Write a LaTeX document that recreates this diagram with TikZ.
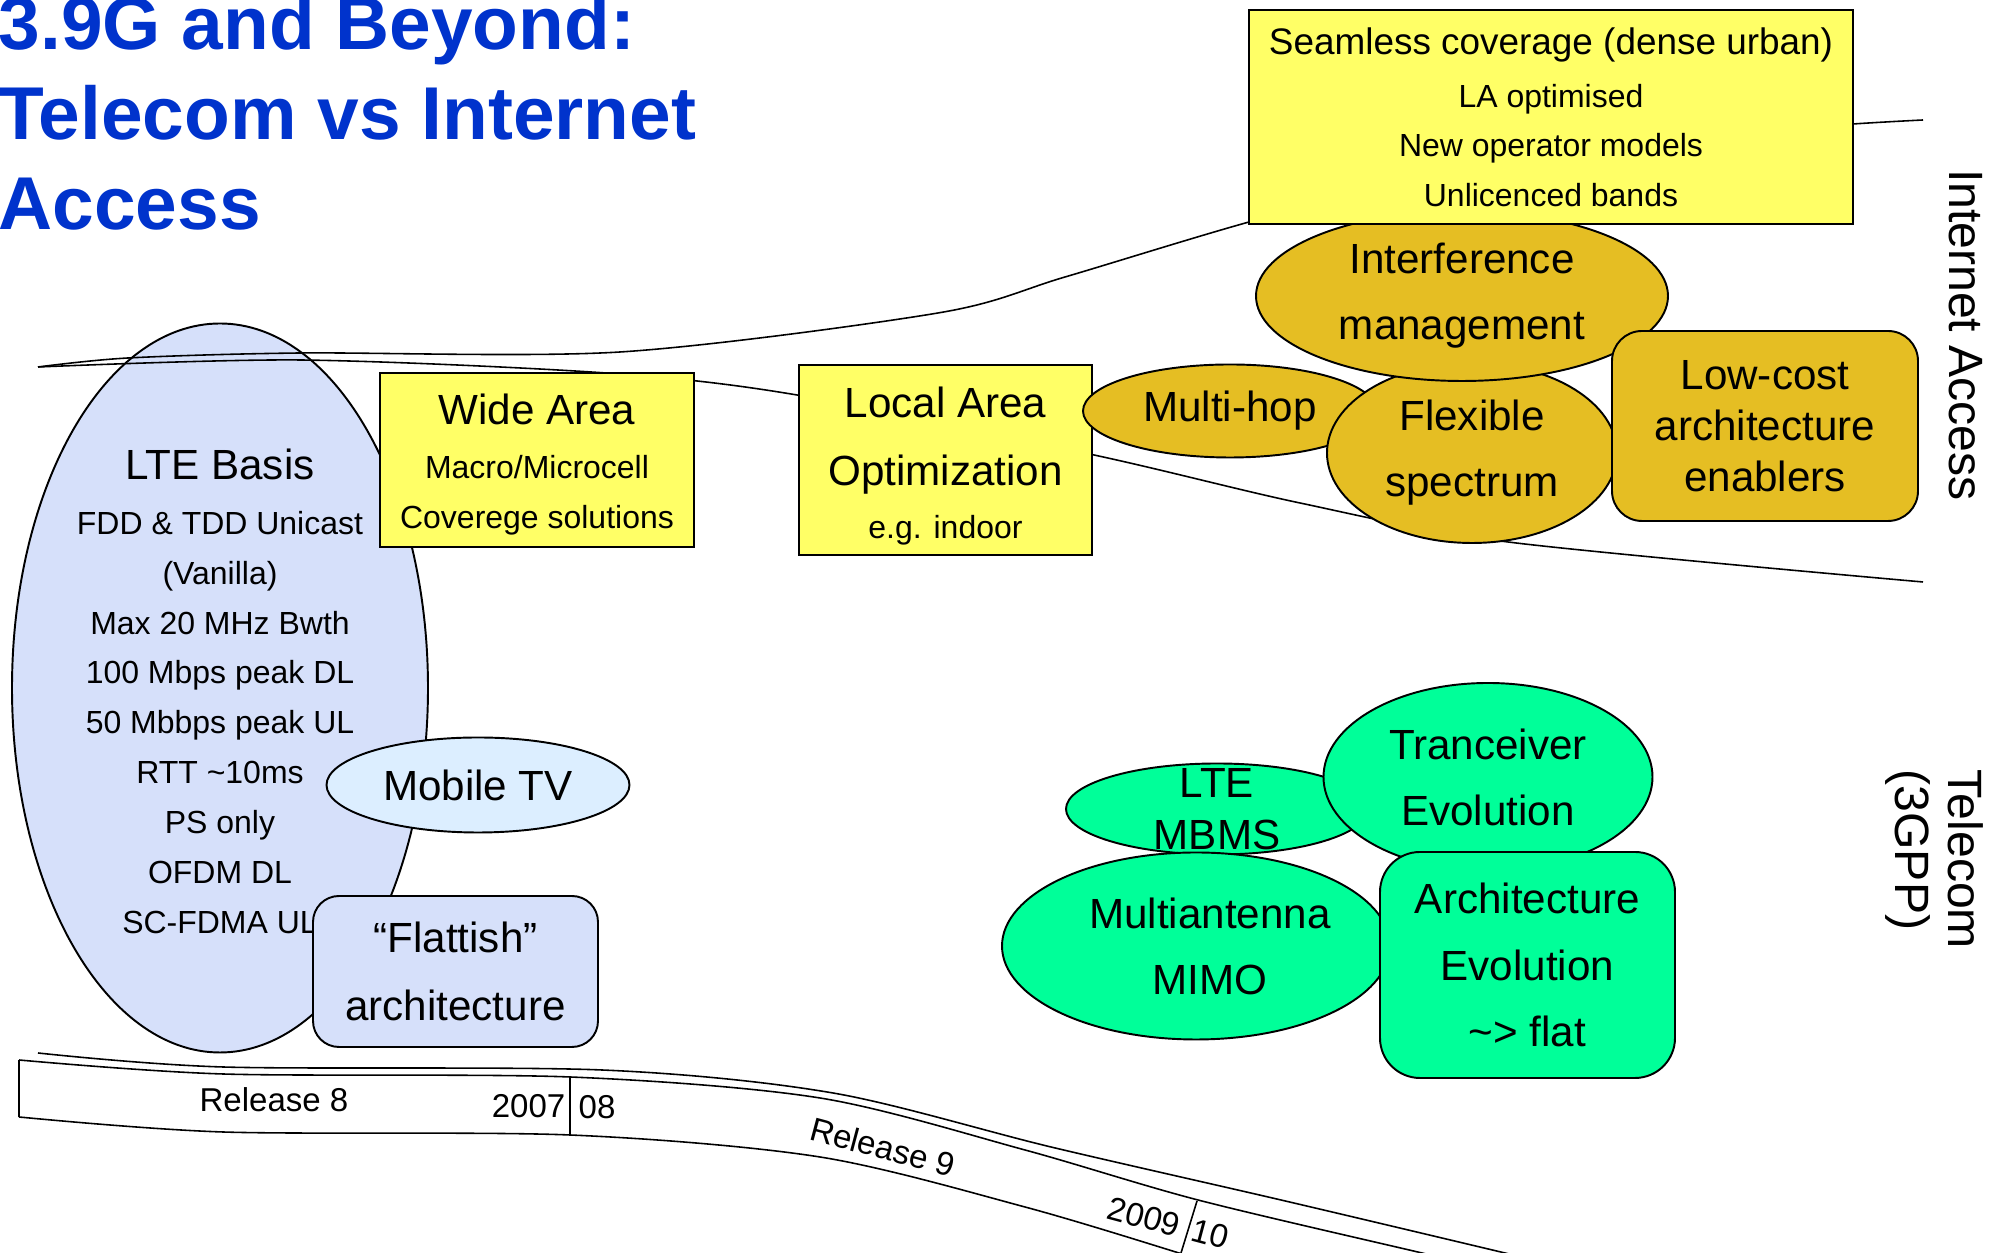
\documentclass[tikz,border=0pt]{standalone}
\usepackage{fontspec}
\setmainfont{Liberation Sans}
\usepackage{xcolor}
\usepackage{tikz}
\usetikzlibrary{shapes.geometric}
\definecolor{TitleBlue}{HTML}{0033CC}
\definecolor{LteLilac}{HTML}{D6E0FA}
\definecolor{TvBlue}{HTML}{DCEEFF}
\definecolor{AreaYellow}{HTML}{FFFF66}
\definecolor{NetGold}{HTML}{E5BE23}
\definecolor{GppGreen}{HTML}{00FF99}
\newcommand{\evoLarge}{\fontsize{12}{14.2}\selectfont}
\newcommand{\evoMid}{\fontsize{10.5}{14.2}\selectfont}

\begin{document}
\begin{tikzpicture}[x=0.1mm,y=-0.1mm]
  \path[use as bounding box] (0,0) rectangle (2009,1253);
  \clip (0,0) rectangle (2009,1253);
  \tikzset{
    evoOval/.style={
      ellipse, draw=black, line width=.55pt, inner sep=0pt, align=center
    },
    evoBox/.style={
      rectangle, draw=black, line width=.7pt, fill=AreaYellow,
      inner sep=0pt, align=center
    },
    evoRound/.style={
      rectangle, rounded corners=3mm, draw=black, line width=.55pt,
      inner sep=0pt, align=center
    },
    evoBand/.style={draw=black, line width=.45pt, line join=round},
    evoBig/.style={font=\fontsize{12}{18.8}\selectfont},
    evoSmall/.style={font=\fontsize{9.1}{14.2}\selectfont},
    evoRelease/.style={font=\fontsize{9.4}{11}\selectfont, inner sep=0pt},
    evoSide/.style={font=\fontsize{13.7}{15.1}\selectfont, inner sep=0pt, rotate=-90}
  }

  \node[evoOval, fill=LteLilac, minimum width=41.6mm, minimum height=72.9mm, evoSmall]
    (lteBasis) at (220,688)
    {\rule{0pt}{10.5pt}{\evoLarge LTE Basis}\\[1.5pt] FDD \& TDD Unicast\\ (Vanilla)\\
     Max 20 MHz Bwth\\ 100 Mbps peak DL\\ 50 Mbbps peak UL\\ RTT \textasciitilde10ms\\
     PS only\\ OFDM DL\\ SC-FDMA UL};

  % internet access band
  \draw[evoBand] plot[smooth] coordinates {(38,367) (128,358) (300,353) (620,352)
    (938,313) (1065,277) (1249,222) (1450,170) (1700,135) (1853,124) (1923,120)};
  \draw[evoBand] plot[smooth] coordinates {(38,367) (300,360) (606,373) (797,395)
    (1094,455) (1300,503) (1508,542) (1923,582)};

  % release band
  \draw[evoBand] plot[smooth] coordinates {(38,1053) (223,1067) (602,1070) (833,1093)
    (1051,1147) (1281,1200) (1505,1253) (1600,1276)};
  \draw[evoBand] plot[smooth] coordinates {(19,1060) (223,1074) (570,1077) (820,1098)
    (1025,1150) (1198,1200) (1422,1253) (1520,1276)};
  \draw[evoBand] plot[smooth] coordinates {(19,1117) (223,1132) (570,1135) (820,1157)
    (1025,1207) (1179,1253) (1230,1270)};
  \draw[evoBand] (19,1060) -- (19,1117);
  \draw[evoBand] (570,1077) -- (570,1135);
  \draw[evoBand] (1197,1201) -- (1181,1253);

  \node[evoRelease] (rel8) at (274,1100) {Release 8};
  \node[evoRelease, anchor=east] (y2007) at (566,1106) {2007};
  \node[evoRelease, anchor=west] (y08) at (578,1107) {08};
  \node[evoRelease, rotate=-15] (rel9) at (883,1147) {Release 9};
  \node[evoRelease, rotate=-15] (y2009) at (1144,1217) {2009};
  \node[evoRelease, rotate=-15] (y10) at (1210,1234) {10};

  \node[evoBox, minimum width=31.4mm, minimum height=17.4mm, evoSmall]
    (wideArea) at (537,460)
    {\rule{0pt}{11.2pt}{\evoLarge Wide Area}\\[1.3pt] Macro/Microcell\\ Coverege solutions};
  \node[evoOval, fill=TvBlue, minimum width=30.3mm, minimum height=9.5mm, evoBig]
    (mobileTv) at (478,785) {Mobile TV};
  \node[evoRound, rounded corners=2.6mm, fill=LteLilac, minimum width=28.5mm,
    minimum height=15.1mm, font=\fontsize{12}{19.3}\selectfont]
    (flattish) at (455.5,971.5) {“Flattish”\\ architecture};

  \node[evoBox, minimum width=29.3mm, minimum height=19mm,
    font=\fontsize{9.1}{15.1}\selectfont]
    (localArea) at (945.5,460)
    {\rule{0pt}{12.2pt}{\evoLarge Local Area}\\[4.2pt] {\evoLarge Optimization}\\ e.g. indoor};

  \node[evoOval, fill=NetGold, minimum width=29.4mm, minimum height=9.3mm, evoBig]
    (multiHop) at (1230,411) {Multi-hop};
  \node[evoOval, fill=NetGold, minimum width=29mm, minimum height=18mm, evoBig]
    (flexSpectrum) at (1472,453) {Flexible\\ spectrum};
  \node[evoOval, fill=NetGold, minimum width=41.2mm, minimum height=17mm, evoBig]
    (interference) at (1462,296) {Interference\\ management};
  \node[evoRound, fill=NetGold, minimum width=30.6mm, minimum height=19mm,
    font=\fontsize{12}{14.5}\selectfont]
    (lowCost) at (1765,426) {Low-cost\\ architecture\\ enablers};
  \node[evoBox, minimum width=60.4mm, minimum height=21.4mm,
    font=\fontsize{9.1}{14.1}\selectfont]
    (seamless) at (1551,117)
    {{\evoMid Seamless coverage (dense urban)}\\[1pt] LA optimised\\
     New operator models\\ Unlicenced bands};

  \node[evoOval, fill=GppGreen, minimum width=30.2mm, minimum height=9.1mm,
    inner ysep=-7pt, font=\fontsize{12}{14.8}\selectfont]
    (lteMbms) at (1217,809) {LTE\\ MBMS};
  \node[evoOval, fill=GppGreen, minimum width=32.9mm, minimum height=18.8mm, evoBig]
    (tranceiver) at (1488,777) {Tranceiver\\ Evolution};
  \node[evoOval, fill=GppGreen, minimum width=38.8mm, minimum height=18.7mm, evoBig]
    (multiAntenna) at (1196,946)
    {\hspace*{8pt}Multiantenna\\ \hspace*{8pt}MIMO};
  \node[evoRound, rounded corners=4mm, fill=GppGreen, minimum width=29.5mm,
    minimum height=22.6mm, evoBig]
    (archEvo) at (1527.5,965) {Architecture\\ Evolution\\ \textasciitilde{}> flat};

  \node[anchor=north west, inner sep=0pt, align=left, text=TitleBlue,
    font=\bfseries\fontsize{21.3}{25.6}\selectfont]
    (title) at (-2,-5) {3.9G and Beyond:\\Telecom vs Internet\\Access};
  \node[evoSide] (internetAccess) at (1966,335) {Internet Access};
  \node[evoSide, anchor=west, align=left] (telecom) at (1934,769) {Telecom\\(3GPP)};
\end{tikzpicture}
\end{document}
